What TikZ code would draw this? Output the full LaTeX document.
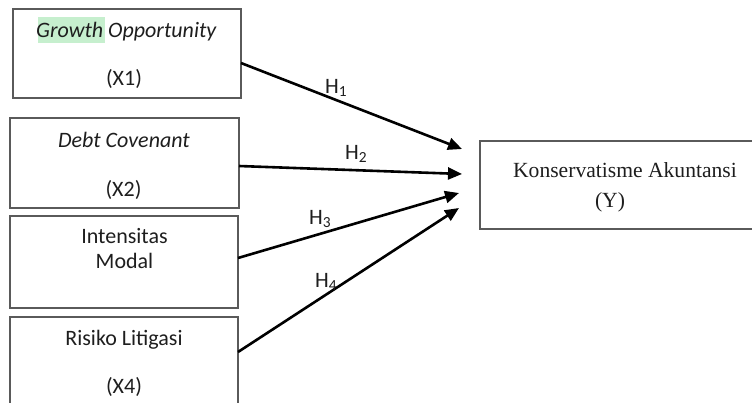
\documentclass[tikz,border=0pt]{standalone}
\usepackage{fontspec}
\setmainfont{Carlito}
\newfontfamily\timesf{Liberation Serif}
\usetikzlibrary{arrows.meta}
\definecolor{hlgreen}{HTML}{C6EFCE}
\definecolor{boxgray}{HTML}{5A5A5A}
\definecolor{txt}{HTML}{1E1E1E}
\begin{document}
\begin{tikzpicture}[x=1pt,y=-1pt,
  box/.style={draw=boxgray, line width=1.2pt, rectangle, inner sep=0pt},
  lbl/.style={anchor=base, inner sep=0pt, text=txt, font=\fontsize{22}{26}\selectfont},
  ylbl/.style={anchor=base, inner sep=0pt, text=txt, font=\timesf\fontsize{21.6}{25}\selectfont},
  hyp/.style={anchor=base west, inner sep=0pt, text=txt, font=\fontsize{22}{26}\selectfont},
  arr/.style={line width=2.6pt, -{Triangle[length=14pt,width=12pt]}}]
\useasboundingbox (0,0) rectangle (752,402);
\clip (0,0) rectangle (752,402);
\fill[white] (0,0) rectangle (752,402);

% boxes
\node[box, minimum width=228pt, minimum height=89pt] (b1) at (127,53.5) {};
\node[box, minimum width=229pt, minimum height=90pt] (b2) at (124.5,163) {};
\node[box, minimum width=228pt, minimum height=92pt] (b3) at (124,262) {};
\node[box, minimum width=228pt, minimum height=113pt] (b4) at (124,373.5) {};
\node[box, minimum width=290pt, minimum height=88pt] (by) at (625,185) {};

% highlight
\node[fill=hlgreen, inner sep=0pt, minimum width=67pt, minimum height=26pt] (hg) at (71.5,30) {};

% texts
\node[lbl] (t1a) at (126.5,37) {\textit{Growth Opportunity}};
\node[lbl] (t1b) at (124,85) {(X1)};
\node[lbl] (t2a) at (124,147) {\textit{Debt Covenant}};
\node[lbl] (t2b) at (123.5,196) {(X2)};
\node[lbl] (t3a) at (124.5,243) {Intensitas};
\node[lbl] (t3b) at (124.5,268) {Modal};
\node[lbl] (t4a) at (124,345) {Risiko Litigasi};
\node[lbl] (t4b) at (124,393) {(X4)};
\node[ylbl] (tya) at (625,177) {Konservatisme Akuntansi};
\node[ylbl] (tyb) at (610,207) {(Y)};

% connector ends
\coordinate (s1) at (241,63);
\coordinate (s2) at (239,166);
\coordinate (s3) at (238,258);
\coordinate (s4) at (238,352);
\coordinate (e1) at (462,149);
\coordinate (e2) at (462,174);
\coordinate (e3) at (459,193);
\coordinate (e4) at (459,208);

\draw[arr] (s1) -- (e1);
\draw[arr] (s2) -- (e2);
\draw[arr] (s3) -- (e3);
\draw[arr] (s4) -- (e4);

% hypothesis labels
\node[hyp] (h1) at (325,93) {H\textsubscript{1}};
\node[hyp] (h2) at (345,159) {H\textsubscript{2}};
\node[hyp] (h3) at (309,224) {H\textsubscript{3}};
\node[hyp] (h4) at (315,287) {H\textsubscript{4}};
\end{tikzpicture}
\end{document}
